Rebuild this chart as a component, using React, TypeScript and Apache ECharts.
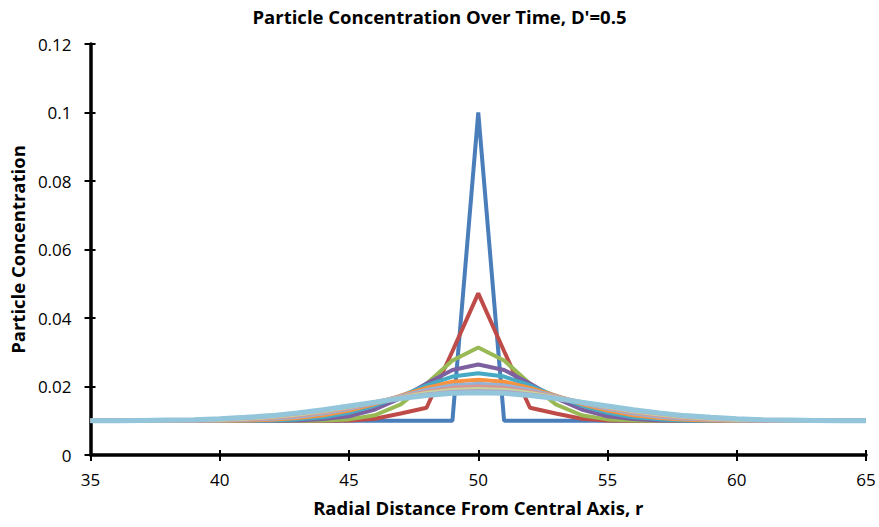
import React, { useEffect, useRef } from "react";
import * as echarts from "echarts";

// Radial distance r (x values)
const rValues = [35, 36, 37, 38, 39, 40, 41, 42, 43, 44, 45, 46, 47, 48, 49, 50, 51, 52, 53, 54, 55, 56, 57, 58, 59, 60, 61, 62, 63, 64, 65];

// Concentration profiles, successive times
const c0 = [0.01, 0.01, 0.01, 0.01, 0.01, 0.01, 0.01, 0.01, 0.01, 0.01, 0.01, 0.01, 0.01, 0.01, 0.01, 0.1, 0.01, 0.01, 0.01, 0.01, 0.01, 0.01, 0.01, 0.01, 0.01, 0.01, 0.01, 0.01, 0.01, 0.01, 0.01];
const c1 = [0.01, 0.01, 0.01, 0.01, 0.01, 0.01, 0.01, 0.01, 0.01, 0.01, 0.0101, 0.0106, 0.0121, 0.0138, 0.0303, 0.0472, 0.0303, 0.0138, 0.0121, 0.0106, 0.0101, 0.01, 0.01, 0.01, 0.01, 0.01, 0.01, 0.01, 0.01, 0.01, 0.01];
const c2 = [0.01, 0.01, 0.01, 0.01, 0.01, 0.01, 0.01, 0.01, 0.01, 0.0101, 0.0104, 0.0116, 0.0148, 0.0208, 0.0276, 0.0314, 0.0276, 0.0208, 0.0148, 0.0116, 0.0104, 0.0101, 0.01, 0.01, 0.01, 0.01, 0.01, 0.01, 0.01, 0.01, 0.01];
const c3 = [0.01, 0.01, 0.01, 0.01, 0.01, 0.01, 0.01, 0.01, 0.0101, 0.0105, 0.0113, 0.0133, 0.0166, 0.0209, 0.0248, 0.0264, 0.0248, 0.0209, 0.0166, 0.0133, 0.0113, 0.0105, 0.0101, 0.01, 0.01, 0.01, 0.01, 0.01, 0.01, 0.01, 0.01];
const c4 = [0.01, 0.01, 0.01, 0.01, 0.01, 0.01, 0.01, 0.0101, 0.0104, 0.011, 0.0123, 0.0144, 0.0172, 0.0203, 0.0229, 0.0239, 0.0229, 0.0203, 0.0172, 0.0144, 0.0123, 0.011, 0.0104, 0.0101, 0.01, 0.01, 0.01, 0.01, 0.01, 0.01, 0.01];
const c5 = [0.01, 0.01, 0.01, 0.01, 0.01, 0.01, 0.0101, 0.0103, 0.0108, 0.0116, 0.013, 0.0149, 0.0173, 0.0196, 0.0214, 0.022, 0.0214, 0.0196, 0.0173, 0.0149, 0.013, 0.0116, 0.0108, 0.0103, 0.0101, 0.01, 0.01, 0.01, 0.01, 0.01, 0.01];
const c6 = [0.01, 0.01, 0.01, 0.01, 0.01, 0.0101, 0.0103, 0.0106, 0.0112, 0.0121, 0.0135, 0.0152, 0.0172, 0.019, 0.0203, 0.0208, 0.0203, 0.019, 0.0172, 0.0152, 0.0135, 0.0121, 0.0112, 0.0106, 0.0103, 0.0101, 0.01, 0.01, 0.01, 0.01, 0.01];
const c7 = [0.01, 0.01, 0.01, 0.01, 0.0101, 0.0102, 0.0104, 0.0108, 0.0115, 0.0125, 0.0138, 0.0154, 0.017, 0.0185, 0.0196, 0.02, 0.0196, 0.0185, 0.017, 0.0154, 0.0138, 0.0125, 0.0115, 0.0108, 0.0104, 0.0102, 0.0101, 0.01, 0.01, 0.01, 0.01];
const c8 = [0.01, 0.01, 0.01, 0.0101, 0.0102, 0.0103, 0.0106, 0.0111, 0.0118, 0.0128, 0.014, 0.0154, 0.0169, 0.0181, 0.019, 0.0193, 0.019, 0.0181, 0.0169, 0.0154, 0.014, 0.0128, 0.0118, 0.0111, 0.0106, 0.0103, 0.0102, 0.0101, 0.01, 0.01, 0.01];
const c9 = [0.01, 0.01, 0.0101, 0.0101, 0.0102, 0.0105, 0.0108, 0.0113, 0.0121, 0.013, 0.0142, 0.0154, 0.0167, 0.0177, 0.0185, 0.0187, 0.0185, 0.0177, 0.0167, 0.0154, 0.0142, 0.013, 0.0121, 0.0113, 0.0108, 0.0105, 0.0102, 0.0101, 0.0101, 0.01, 0.01];
const c10 = [0.01, 0.01, 0.0101, 0.0102, 0.0103, 0.0106, 0.011, 0.0115, 0.0123, 0.0132, 0.0143, 0.0154, 0.0165, 0.0174, 0.018, 0.0182, 0.018, 0.0174, 0.0165, 0.0154, 0.0143, 0.0132, 0.0123, 0.0115, 0.011, 0.0106, 0.0103, 0.0102, 0.0101, 0.01, 0.01];

const profiles = [c0, c1, c2, c3, c4, c5, c6, c7, c8, c9, c10];
const seriesNames = ["t0", "t1", "t2", "t3", "t4", "t5", "t6", "t7", "t8", "t9", "t10"];
const seriesColors = ["#4A7EBB", "#BE4B48", "#98B954", "#7D60A0", "#46AAC5", "#F69240", "#95B3D7", "#D99694", "#C3D69B", "#B3A2C7", "#93C6DA"];

const FONT = "Open Sans";

export default function App() {
  const ref = useRef<HTMLDivElement>(null);
  useEffect(() => {
    document.body.style.margin = "0";
    const chart = echarts.init(ref.current!, null, { renderer: "svg" });
    const hiddenAxisParts = {
      axisLine: { show: false },
      axisLabel: { show: false },
      splitLine: { show: false },
      axisTick: { show: true, inside: true, length: 5, lineStyle: { color: "#000", width: 2 } },
    };
    chart.setOption({
      animation: false,
      backgroundColor: "#ffffff",
      title: {
        text: "Particle Concentration Over Time, D'=0.5",
        left: "center",
        top: 2,
        textStyle: { fontFamily: FONT, fontWeight: "bold", fontSize: 18.5, color: "#000" },
      },
      grid: { left: 89, right: 13, top: 44, bottom: 72, containLabel: false },
      xAxis: [
        {
          type: "value",
          min: 35,
          max: 65,
          interval: 5,
          name: "Radial Distance From Central Axis, r",
          nameLocation: "middle",
          nameGap: 43,
          nameTextStyle: { fontFamily: FONT, fontWeight: "bold", fontSize: 18.5, color: "#000" },
          axisLine: { show: true, onZero: false, lineStyle: { color: "#000", width: 3.5 } },
          axisTick: { show: true, length: 6, lineStyle: { color: "#000", width: 2 } },
          axisLabel: { fontFamily: FONT, fontSize: 17, color: "#000", margin: 16 },
          splitLine: { show: false },
        },
        { type: "value", min: 35, max: 65, interval: 5, position: "bottom", ...hiddenAxisParts },
      ],
      yAxis: [
        {
          type: "value",
          min: 0,
          max: 0.12,
          interval: 0.02,
          name: "Particle Concentration",
          nameLocation: "middle",
          nameGap: 56,
          nameTextStyle: { fontFamily: FONT, fontWeight: "bold", fontSize: 18.5, color: "#000" },
          axisLine: { show: true, onZero: false, lineStyle: { color: "#000", width: 3.5 } },
          axisTick: { show: true, length: 6, lineStyle: { color: "#000", width: 2 } },
          axisLabel: { fontFamily: FONT, fontSize: 17, color: "#000", margin: 19 },
          splitLine: { show: false },
        },
        { type: "value", min: 0, max: 0.12, interval: 0.02, position: "left", ...hiddenAxisParts },
      ],
      series: profiles.map((vals, i) => ({
        name: seriesNames[i],
        type: "line",
        xAxisIndex: 0,
        yAxisIndex: 0,
        data: rValues.map((r, j) => [r, vals[j]]),
        showSymbol: false,
        symbol: "none",
        lineStyle: { color: seriesColors[i], width: i === profiles.length - 1 ? 5 : 4 },
        itemStyle: { color: seriesColors[i] },
        z: 2,
      })),
    });
    return () => chart.dispose();
  }, []);
  return <div ref={ref} style={{ width: 879, height: 527 }} />;
}
